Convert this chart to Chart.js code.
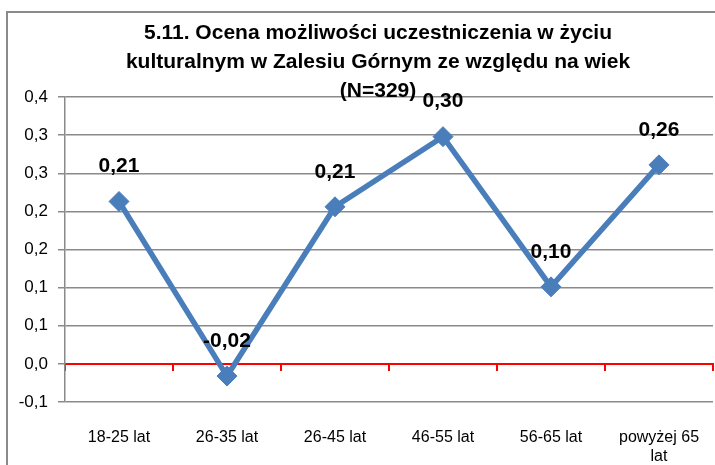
<!DOCTYPE html>
<html lang="pl">
<head>
    <meta charset="UTF-8">
    <script src="https://cdn.jsdelivr.net/npm/chart.js"></script>
    <title>Ocena możliwości uczestniczenia w życiu kulturalnym</title>
    <style>
        html, body { margin: 0; padding: 0; background: #fff; overflow: hidden; }
        #box {
            position: absolute; left: 6px; top: 11px;
            width: 744px; height: 480px;
            border: 2px solid #8a8a8a;
            background: #fff;
        }
    </style>
</head>
<body>

    <div id="box"><canvas id="myChart" width="744" height="480"></canvas></div>

    <script>
        const titleLines = [
            '5.11. Ocena możliwości uczestniczenia w życiu',
            'kulturalnym w Zalesiu Górnym ze względu na wiek',
            '(N=329)'
        ];
        const categories = ['18-25 lat', '26-35 lat', '26-45 lat', '46-55 lat', '56-65 lat', ['powyżej 65', 'lat']];
        const values = [0.213, -0.016, 0.206, 0.298, 0.101, 0.261];
        const yTickLabels = ['-0,1', '0,0', '0,1', '0,1', '0,2', '0,2', '0,3', '0,3', '0,4'];

        const FONT = "'Liberation Sans', Arial, sans-serif";
        const gridGrey = '#8a8a8a';

        // title is drawn by hand so it can overlap the top of the plot like in excel
        const titlePlugin = {
            id: 'titleText',
            afterDraw(chart) {
                const ctx = chart.ctx;
                ctx.save();
                ctx.font = 'bold 21px ' + FONT;
                ctx.fillStyle = '#000';
                ctx.textAlign = 'center';
                ctx.textBaseline = 'middle';
                titleLines.forEach((t, i) => ctx.fillText(t, 370, 20.5 + i * 29));
                ctx.restore();
            }
        };

        const labelPlugin = {
            id: 'pointLabels',
            afterDatasetsDraw(chart) {
                const ctx = chart.ctx;
                const meta = chart.getDatasetMeta(0);
                ctx.save();
                ctx.font = 'bold 21px ' + FONT;
                ctx.fillStyle = '#000';
                ctx.textAlign = 'center';
                ctx.textBaseline = 'middle';
                meta.data.forEach((pt, i) => {
                    const txt = values[i].toFixed(2).replace('.', ',');
                    ctx.fillText(txt, pt.x, pt.y - 35);
                });
                ctx.restore();
            }
        };

        const ctx = document.getElementById('myChart').getContext('2d');

        new Chart(ctx, {
            type: 'line',
            data: {
                labels: categories,
                datasets: [{
                    label: 'ocena',
                    data: values,
                    borderColor: '#4a7ebb',
                    backgroundColor: '#4a7ebb',
                    borderWidth: 5.5,
                    pointStyle: 'rectRot',
                    pointRadius: 10,
                    pointHoverRadius: 10,
                    pointBorderWidth: 1,
                    tension: 0,
                }],
            },
            options: {
                responsive: false,
                animation: false,
                layout: { padding: { top: 84, right: 39, bottom: 0, left: 0 } },
                plugins: {
                    legend: { display: false },
                    title: { display: false },
                    tooltip: { enabled: false }
                },
                scales: {
                    x: {
                        type: 'category',
                        offset: true,
                        grid: { display: false, drawTicks: false },
                        border: { display: false },
                        ticks: {
                            padding: 26,
                            maxRotation: 0,
                            autoSkip: false,
                            color: '#000',
                            font: { family: FONT, size: 16 }
                        },
                        afterFit(scale) { scale.height = 91; }
                    },
                    xZero: {
                        type: 'category',
                        position: { y: 0 },
                        offset: true,
                        grid: {
                            offset: true,
                            drawOnChartArea: false,
                            drawTicks: true,
                            tickLength: 6,
                            color: '#ff0000',
                            lineWidth: 2
                        },
                        border: { display: true, color: '#ff0000', width: 2 },
                        ticks: { display: false }
                    },
                    y: {
                        min: -0.05,
                        max: 0.35,
                        grid: {
                            color: gridGrey,
                            lineWidth: 1.5,
                            tickLength: 7
                        },
                        border: { display: true, color: gridGrey, width: 1.5 },
                        ticks: {
                            stepSize: 0.05,
                            padding: 10,
                            color: '#000',
                            font: { family: FONT, size: 17 },
                            callback: (v, i) => yTickLabels[i]
                        },
                        afterFit(scale) { scale.width = 57; }
                    }
                }
            },
            plugins: [titlePlugin, labelPlugin]
        });
    </script>

</body>
</html>
